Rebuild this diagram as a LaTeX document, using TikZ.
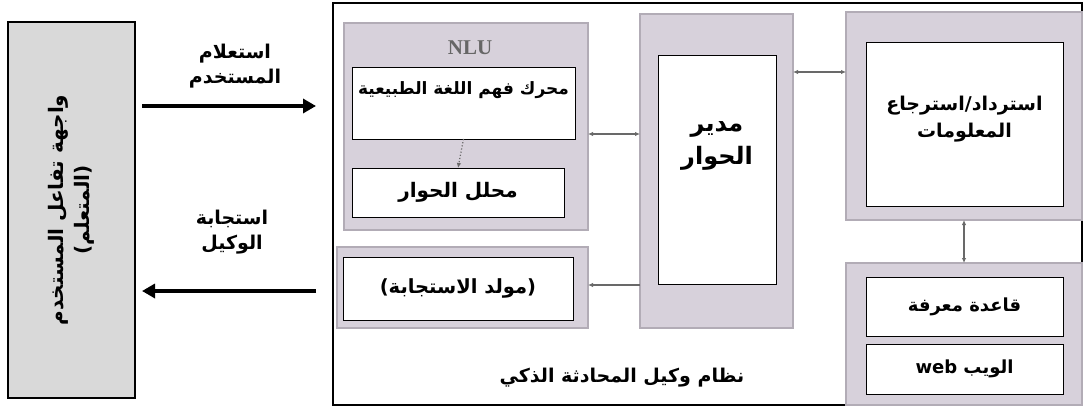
\documentclass[tikz,border=0pt]{standalone}
\usepackage{fontspec}
\setmainfont{DejaVu Sans}
\newfontfamily\arabicfont[Script=Arabic]{DejaVu Sans}
\newfontfamily\nlufont{Liberation Serif}
\usetikzlibrary{positioning, arrows.meta, calc}
\TeXXeTstate=1
\newcommand{\artext}[1]{\beginR #1\endR}
\newcommand{\arsize}[1]{\arabicfont\bfseries\fontsize{#1}{1.3\dimexpr#1pt\relax}\selectfont}
\definecolor{panelfill}{RGB}{215,209,219}
\definecolor{paneledge}{RGB}{178,172,182}
\definecolor{userfill}{RGB}{217,217,217}
\definecolor{linkgray}{RGB}{105,105,105}

\begin{document}
\begin{tikzpicture}[
    x=1pt, y=-1pt,
    panel/.style={rectangle, draw=paneledge, fill=panelfill, line width=2.5pt, inner sep=0pt, outer sep=0pt},
    whitebox/.style={rectangle, draw=black, fill=white, line width=1pt, inner sep=0pt, outer sep=0pt, align=center, font=\arsize{18}},
    boxtext/.style={align=center, inner sep=0pt},
    userbox/.style={rectangle, draw=black, fill=userfill, line width=2.5pt, inner sep=0pt, outer sep=0pt, align=center, font=\arsize{20}},
    systembox/.style={rectangle, draw=black, line width=2.5pt, inner sep=0pt, outer sep=0pt},
    msglabel/.style={align=center, font=\arsize{19}},
    biglink/.style={-{Triangle[length=13pt,width=14pt]}, line width=4pt},
    smalllink/.style={{Latex[length=5pt,width=4.5pt]}-{Latex[length=5pt,width=4.5pt]}, draw=linkgray, line width=1.2pt},
    onelink/.style={-{Latex[length=5pt,width=4.5pt]}, draw=linkgray, line width=1.2pt},
]
\useasboundingbox (0,0) rectangle (1086,409);

% User interface on the left
\node[userbox, rotate=90, minimum width=376pt, minimum height=127pt] (user) at (71.5,210)
    {\artext{واجهة تفاعل المستخدم}\\\artext{(المتعلم)}};

% Chatbot system frame
\node[systembox, minimum width=749pt, minimum height=402pt] (system) at (707.5,204) {};
\node[font=\arsize{19}] (title) at (622,378)
    {\artext{نظام وكيل المحادثة الذكي}};

% NLU block
\node[panel, minimum width=244pt, minimum height=207pt] (nlu) at (466,126.5) {};
\node[font=\nlufont\bfseries\fontsize{21}{24}\selectfont, text=black!60] (nlutitle) at (470,48) {NLU};
\node[whitebox, minimum width=223pt, minimum height=71pt,
    label={[boxtext, font=\arsize{17}, yshift=13.5pt]center:{\beginR محرك فهم اللغة الطبيعية\endR}}] (engine) at (463.5,103.5) {};
\node[whitebox, minimum width=212pt, minimum height=49pt, font=\arsize{20}] (parser) at (458,192.5)
    {\artext{محلل الحوار}};

% Response generator
\node[panel, minimum width=251pt, minimum height=81pt] (genpanel) at (462.5,287.5) {};
\node[whitebox, minimum width=230pt, minimum height=63pt, font=\arsize{19.5}] (generator) at (458,288.5)
    {\artext{(مولد الاستجابة)}};

% Dialogue manager
\node[panel, minimum width=153pt, minimum height=314pt] (dm) at (716.5,171) {};
\node[whitebox, minimum width=118pt, minimum height=228pt,
    label={[boxtext, font=\arsize{24}, yshift=24pt]center:{\artext{مدير}\\[2pt]\artext{الحوار}}}] (manager) at (717,170) {};

% Information retrieval
\node[panel, minimum width=236pt, minimum height=208pt] (irpanel) at (964,116) {};
\node[whitebox, minimum width=197pt, minimum height=163pt,
    label={[boxtext, font=\arsize{19}, yshift=5.5pt]center:{\artext{استرداد/استرجاع}\\[2pt]\artext{المعلومات}}}] (retrieval) at (964.5,124.5) {};

% Knowledge base
\node[panel, minimum width=236pt, minimum height=142pt] (kbpanel) at (964,334) {};
\node[whitebox, minimum width=197pt, minimum height=59pt] (kb) at (964.5,306.5)
    {\artext{قاعدة معرفة}};
\node[whitebox, minimum width=197pt, minimum height=50pt] (web) at (964.5,369)
    {\artext{الويب \beginL web\endL}};

% Messages between user and system
\node[msglabel] (query) at (235,66) {\artext{استعلام}\\\artext{المستخدم}};
\node[msglabel] (reply) at (232,232) {\artext{استجابة}\\\artext{الوكيل}};
\draw[biglink, shorten <=7pt, shorten >=17pt] (user.south |- 0,106) -- (system.west |- 0,106);
\draw[biglink, shorten <=17pt, shorten >=7pt] (system.west |- 0,291) -- (user.south |- 0,291);

% Internal links
\draw[smalllink] (nlu.east |- 0,134) -- (dm.west |- 0,134);
\draw[onelink] (dm.west |- 0,285) -- (genpanel.east |- 0,285);
\draw[smalllink] (dm.east |- 0,72) -- (irpanel.west |- 0,72);
\draw[smalllink] (irpanel.south) -- (kbpanel.north);
\draw[onelink, dotted] (engine.south) -- (parser.north);

\end{tikzpicture}
\end{document}
